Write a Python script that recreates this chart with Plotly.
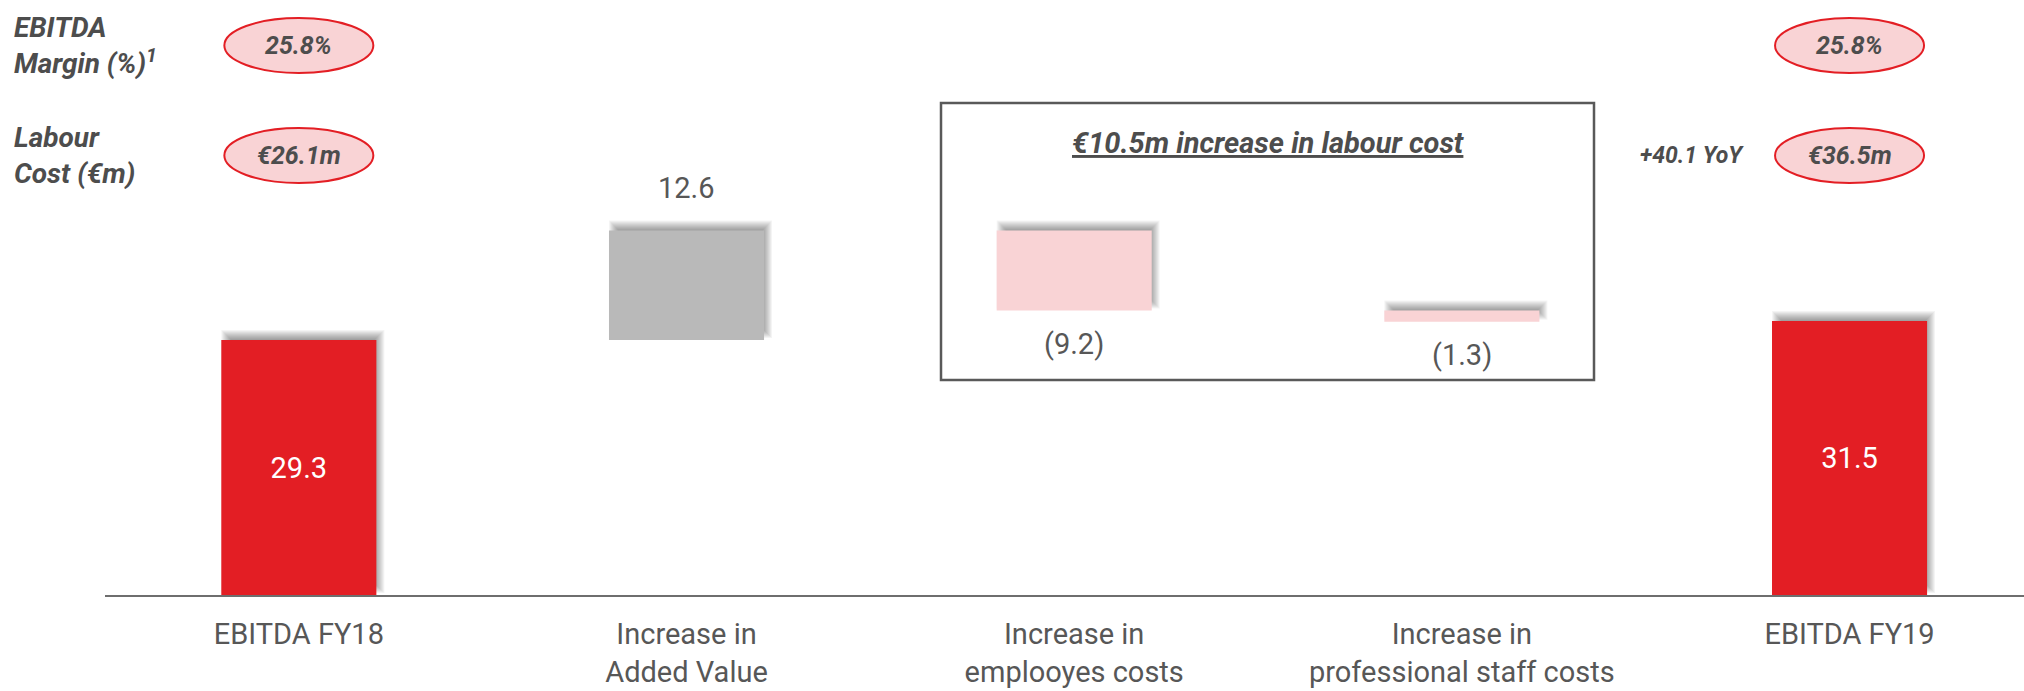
import plotly.graph_objects as go

# ---- data -------------------------------------------------------------
categories = [
    "EBITDA FY18",
    "Increase in<br>Added Value",
    "Increase in<br>emplooyes costs",
    "Increase in<br>professional staff costs",
    "EBITDA FY19",
]
step_values = [29.3, 12.6, -9.2, -1.3, 31.5]
step_kinds = ["total", "delta", "delta", "delta", "total"]

margin_pct = ["25.8%", "25.8%"]          # FY18, FY19
labour_cost = ["€26.1m", "€36.5m"]       # FY18, FY19
labour_yoy = "+40.1 YoY"
labour_box_title = "€10.5m increase in labour cost"
header_labels = ["EBITDA<br>Margin (%)<sup>1</sup>", "Labour<br>Cost (€m)"]

# ---- styling ----------------------------------------------------------
RED = "#E31E24"
GREY_BAR = "#B9B9B9"
PINK = "#F9D3D5"
TEXT = "#575757"
FONT = "Roboto"

W, H = 2024, 691
M_L, M_R, M_T, M_B = 105, 0, 0, 96
PW, PH = W - M_L - M_R, H - M_T - M_B
X_RANGE = [-0.5, 4.45]
Y_RANGE = [0, 68.4]
X_UNIT = PW / (X_RANGE[1] - X_RANGE[0])   # px per category step
Y_UNIT = PH / (Y_RANGE[1] - Y_RANGE[0])   # px per €m
BAR_W = 0.4


def xp(px):
    """page pixel -> x paper coordinate"""
    return (px - M_L) / PW


def yp(py):
    """page pixel -> y paper coordinate"""
    return (M_T + PH - py) / PH


# ---- waterfall geometry from the step values -------------------------
bases, heights, colors = [], [], []
running = 0.0
for v, kind in zip(step_values, step_kinds):
    if kind == "total":
        bases.append(0.0)
        heights.append(v)
        colors.append(RED)
        running = v
    else:
        bases.append(running + min(v, 0))
        heights.append(abs(v))
        colors.append(GREY_BAR if v >= 0 else PINK)
        running += v

x_idx = list(range(len(categories)))


def fmt(v):
    return f"({abs(v):.1f})" if v < 0 else f"{v:.1f}"


fig = go.Figure()

# soft drop shadow behind each bar (offset up/right, feathered edges)
shapes = []
sdx, sdy = 4 / X_UNIT, 6 / Y_UNIT
for i, (b, h) in enumerate(zip(bases, heights)):
    for e in range(-5, 5):
        ex, ey = e / X_UNIT, e / Y_UNIT
        shapes.append(dict(
            type="rect", xref="x", yref="y", layer="below",
            x0=i - BAR_W / 2 + sdx - ex, x1=i + BAR_W / 2 + sdx + ex,
            y0=b + sdy - ey, y1=b + h + sdy + ey,
            line=dict(width=0), fillcolor="black", opacity=0.042,
        ))

tot_idx = [i for i, k in enumerate(step_kinds) if k == "total"]
dlt_idx = [i for i, k in enumerate(step_kinds) if k != "total"]

# opening / closing EBITDA bars with their value inside
fig.add_trace(go.Bar(
    x=tot_idx, y=[heights[i] for i in tot_idx], base=[bases[i] for i in tot_idx],
    width=BAR_W,
    marker=dict(color=[colors[i] for i in tot_idx], line=dict(width=0)),
    text=[fmt(step_values[i]) for i in tot_idx],
    textposition="inside", insidetextanchor="middle", textangle=0,
    constraintext="none",
    textfont=dict(family=FONT, size=29, color="white"),
    hoverinfo="skip", showlegend=False,
))

# floating bridge steps
fig.add_trace(go.Bar(
    x=dlt_idx, y=[heights[i] for i in dlt_idx], base=[bases[i] for i in dlt_idx],
    width=BAR_W,
    marker=dict(color=[colors[i] for i in dlt_idx], line=dict(width=0)),
    hoverinfo="skip", showlegend=False,
))

annotations = []
# delta labels: positive above the bar, negative below it
for i in dlt_idx:
    v, b, h = step_values[i], bases[i], heights[i]
    if v >= 0:
        annotations.append(dict(x=i, y=b + h, xref="x", yref="y", text=fmt(v),
                                showarrow=False, yanchor="middle", yshift=43,
                                font=dict(family=FONT, size=29, color=TEXT)))
    else:
        annotations.append(dict(x=i, y=b, xref="x", yref="y", text=fmt(v),
                                showarrow=False, yanchor="middle", yshift=-33,
                                font=dict(family=FONT, size=29, color=TEXT)))

# header rows: EBITDA margin and labour cost in pink ellipses
ELL_W = 149 / X_UNIT
row_centres = [45.5, 155.5]
ELL_H = 55
hdr_font = dict(family=FONT, size=25, color="#4D4D4D", weight=700, style="italic")
for row, texts in zip(row_centres, [margin_pct, labour_cost]):
    for ci, t in zip([0, len(categories) - 1], texts):
        shapes.append(dict(
            type="circle", xref="x", yref="paper",
            x0=ci - ELL_W / 2, x1=ci + ELL_W / 2,
            y0=yp(row + ELL_H / 2), y1=yp(row - ELL_H / 2),
            fillcolor=PINK, line=dict(color=RED, width=2),
        ))
        annotations.append(dict(x=ci, y=yp(row), xref="x", yref="paper", text=t,
                                showarrow=False, xanchor="center", yanchor="middle",
                                font=hdr_font))

for row, label in zip(row_centres, header_labels):
    annotations.append(dict(x=xp(12), y=yp(row), xref="paper", yref="paper",
                            text=label, showarrow=False, xanchor="left",
                            yanchor="middle", align="left",
                            font=dict(family=FONT, size=28, color="#4D4D4D",
                                      weight=700, style="italic")))

annotations.append(dict(x=xp(1692), y=yp(row_centres[1]), xref="paper", yref="paper",
                        text=labour_yoy, showarrow=False, xanchor="center",
                        yanchor="middle",
                        font=dict(family=FONT, size=23, color="#4D4D4D",
                                  weight=700, style="italic")))

# framed call-out around the two labour-cost steps
shapes.append(dict(type="rect", xref="paper", yref="paper",
                   x0=xp(941), x1=xp(1594), y0=yp(380), y1=yp(103),
                   line=dict(color="#595959", width=2.5), fillcolor="rgba(0,0,0,0)"))
annotations.append(dict(x=xp(1268), y=yp(143), xref="paper", yref="paper",
                        text=labour_box_title, showarrow=False,
                        xanchor="center", yanchor="middle",
                        font=dict(family=FONT, size=29, color="#4D4D4D",
                                  weight=700, style="italic", lineposition="under")))

fig.update_layout(
    width=W, height=H,
    margin=dict(l=M_L, r=M_R, t=M_T, b=M_B, pad=0),
    paper_bgcolor="white", plot_bgcolor="white",
    shapes=shapes, annotations=annotations,
    showlegend=False, hovermode=False, barmode="overlay",
    xaxis=dict(range=X_RANGE, tickmode="array", tickvals=x_idx, ticktext=categories,
               showgrid=False, zeroline=False, showline=True, linecolor="#6E6E6E",
               linewidth=2, ticks="", ticklabelstandoff=12,
               tickfont=dict(family=FONT, size=29, color=TEXT), fixedrange=True),
    yaxis=dict(range=Y_RANGE, visible=False, showgrid=False, zeroline=False,
               fixedrange=True),
)

fig.write_html("out.html", config={"displayModeBar": False})
